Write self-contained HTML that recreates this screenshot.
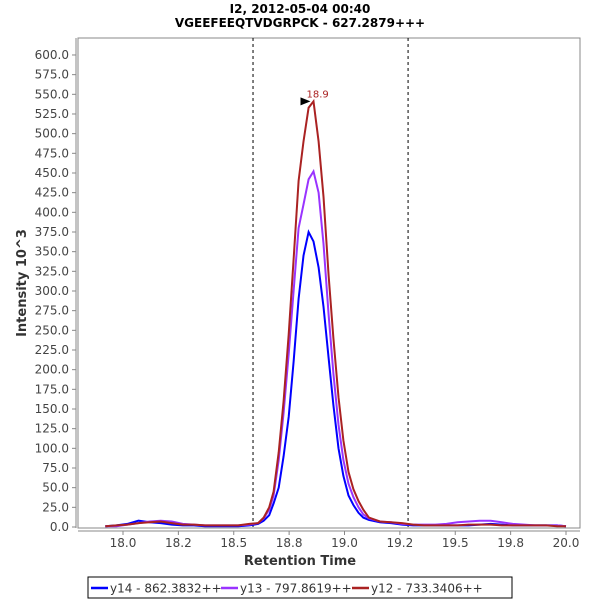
<!DOCTYPE html>
<html><head><meta charset="utf-8"><style>
body{margin:0;background:#fff;}
svg{display:block;font-family:"DejaVu Sans","Liberation Sans",sans-serif;}
</style></head><body>
<svg id="chart" width="600" height="600">
<text x="300" y="13" text-anchor="middle" font-size="12" font-weight="bold">I2, 2012-05-04 00:40</text>
<text x="300" y="27" text-anchor="middle" font-size="12" font-weight="bold">VGEEFEEQTVDGRPCK - 627.2879+++</text>
<rect x="78" y="38" width="502" height="490" fill="#fff" stroke="#888"/>
<g id="axes"></g>
<g id="series"></g>
<text x="300" y="565" text-anchor="middle" font-size="13" font-weight="bold" fill="#333">Retention Time</text>
<text transform="translate(26,283) rotate(-90)" text-anchor="middle" font-size="13" font-weight="bold" fill="#333">Intensity 10^3</text>
<g>
<rect x="88" y="577" width="424" height="21" fill="#fff" stroke="#000"/>
<g><line x1="91" y1="588" x2="108" y2="588" stroke="#0000ff" stroke-width="2.5"/><text x="110" y="592.5" font-size="12" fill="#333">y14 - 862.3832++</text></g>
<g><line x1="221" y1="588" x2="238" y2="588" stroke="#9933ff" stroke-width="2.5"/><text x="240" y="592.5" font-size="12" fill="#333">y13 - 797.8619++</text></g>
<g><line x1="352" y1="588" x2="369" y2="588" stroke="#aa2222" stroke-width="2.5"/><text x="371" y="592.5" font-size="12" fill="#333">y12 - 733.3406++</text></g>
</g>
</svg>
<script>
const times = [17.92,17.97,18.02,18.07,18.12,18.17,18.22,18.27,18.32,18.37,18.42,18.47,18.52,18.57,18.61,18.635,18.66,18.68,18.703,18.725,18.748,18.77,18.793,18.815,18.838,18.86,18.883,18.905,18.928,18.95,18.973,18.995,19.018,19.04,19.063,19.085,19.11,19.16,19.21,19.26,19.31,19.36,19.41,19.46,19.51,19.56,19.61,19.66,19.71,19.76,19.81,19.86,19.91,19.96,20.0];
const y14 = [1,2,4,8,6,5,3,2,2,1,1,1,1,2,4,8,15,30,50,90,140,210,290,345,375,363,330,280,215,155,100,65,40,28,18,12,9,6,5,3,2,2,2,2,2,2,3,4,3,2,2,2,2,2,1];
const y13 = [1,1,3,5,7,8,7,4,3,2,2,2,2,3,5,11,22,40,85,145,220,300,380,410,442,452,425,360,270,195,130,85,55,38,25,16,11,7,6,4,3,3,3,4,6,7,8,8,6,4,3,2,2,2,1];
const y12 = [1,2,3,5,6,7,5,3,3,2,2,2,2,4,5,12,25,45,95,160,245,340,440,490,533,541,490,420,320,240,165,110,70,48,33,22,12,7,6,5,3,2,2,2,2,3,3,3,2,2,2,2,2,1,1];
const xTicks = [18.0,18.25,18.5,18.75,19.0,19.25,19.5,19.75,20.0];
const xTickLabels = ["18.0","18.2","18.5","18.8","19.0","19.2","19.5","19.8","20.0"];
const yTicks = [0,25,50,75,100,125,150,175,200,225,250,275,300,325,350,375,400,425,450,475,500,525,550,575,600];
const markers = [18.587,19.287];
const peakLabel = "18.9";

const NS="http://www.w3.org/2000/svg";
const X=t=>123+(t-18.0)*221.5;
const Y=v=>527-v*0.7867;
function mk(tag,attrs,parent){const e=document.createElementNS(NS,tag);for(const k in attrs)e.setAttribute(k,attrs[k]);parent.appendChild(e);return e;}
const axes=document.getElementById('axes'), series=document.getElementById('series');
let a=mk('line',{x1:76,y1:38,x2:76,y2:528,stroke:'#888'},axes);


a=mk('line',{x1:78,y1:531,x2:580,y2:531,stroke:'#888'},axes);


yTicks.forEach(v=>{
  const y=Y(v);
  mk('line',{x1:72,y1:y,x2:76,y2:y,stroke:'#888'},axes);
  const t=mk('text',{x:69,y:y+4,'text-anchor':'end','font-size':12,fill:'#444'},axes);
  t.textContent=v.toFixed(1);
  
  
});
xTicks.forEach((v,i)=>{
  const x=X(v);
  mk('line',{x1:x,y1:531,x2:x,y2:535,stroke:'#888'},axes);
  const t=mk('text',{x:x,y:547,'text-anchor':'middle','font-size':12,fill:'#444'},axes);
  t.textContent=xTickLabels[i];
  
  
});
markers.forEach(m=>{
  const l=mk('line',{x1:X(m),y1:38,x2:X(m),y2:528,stroke:'#000','stroke-dasharray':'3,3'},axes);
  
  
});
[[y14,'#0000ff','series-y14'],[y13,'#9933ff','series-y13'],[y12,'#aa2222','series-y12']].forEach(([vals,c,n])=>{
  const p=mk('polyline',{points:times.map((t,i)=>X(t).toFixed(1)+','+Y(vals[i]).toFixed(1)).join(' '),fill:'none',stroke:c,'stroke-width':2},series);
  
  
});
let pi=0;y12.forEach((v,i)=>{if(v>y12[pi])pi=i;});
const px=X(times[pi]),py=Y(y12[pi]);
const tri=mk('polygon',{points:`${px-13},${py-4} ${px-3},${py} ${px-13},${py+4}`,fill:'#000'},series);


const pl=mk('text',{x:px-7,y:py-4,'font-size':10,fill:'#aa2222'},series);
pl.textContent=peakLabel;


</script>
</body></html>
